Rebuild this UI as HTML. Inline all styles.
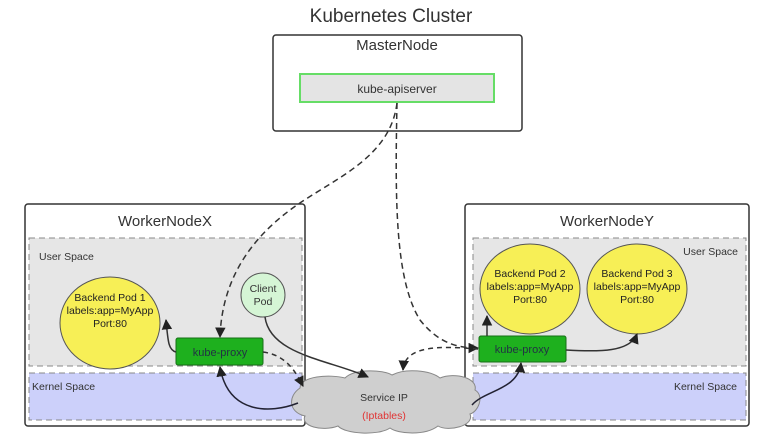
<!DOCTYPE html>
<html><head><meta charset="utf-8"><style>
html,body{margin:0;padding:0;background:#fff;}
svg{display:block;font-family:"Liberation Sans",sans-serif;}
</style></head><body>
<svg width="762" height="440" viewBox="0 0 762 440" xmlns="http://www.w3.org/2000/svg">
<defs>
<marker id="a" viewBox="0 0 10 10" refX="9" refY="5" markerWidth="7" markerHeight="7" orient="auto"><path d="M0,0 L10,5 L0,10 z" fill="#222"/></marker>
</defs>
<rect width="762" height="440" fill="#fff"/>
<text x="391" y="22" font-size="19" text-anchor="middle" fill="#333">Kubernetes Cluster</text>
<!-- master -->
<rect x="273" y="35" width="249" height="96" rx="3" fill="#fff" stroke="#333" stroke-width="1.5"/>
<text x="397" y="50" font-size="15" text-anchor="middle" fill="#333">MasterNode</text>
<rect x="300" y="74" width="194" height="28" fill="#e4e4e4" stroke="#66dd66" stroke-width="2"/>
<text x="397" y="93" font-size="12" text-anchor="middle" fill="#333">kube-apiserver</text>
<!-- worker X -->
<rect x="25" y="204" width="280" height="222" rx="3" fill="#fff" stroke="#333" stroke-width="1.5"/>
<text x="165" y="226" font-size="15" text-anchor="middle" fill="#333">WorkerNodeX</text>
<rect x="29" y="238" width="273" height="128" fill="#e6e6e6" stroke="#888" stroke-dasharray="6,4"/>
<rect x="29" y="373" width="273" height="47" fill="#ccd0fa" stroke="#888" stroke-dasharray="6,4"/>
<text x="39" y="260" font-size="10.5" fill="#333">User Space</text>
<text x="32" y="390" font-size="10.5" fill="#333">Kernel Space</text>
<ellipse cx="110" cy="323" rx="50" ry="46" fill="#f7ef56" stroke="#555"/>
<text font-size="10.5" text-anchor="middle" fill="#222"><tspan x="110" y="301">Backend Pod 1</tspan><tspan x="110" y="314">labels:app=MyApp</tspan><tspan x="110" y="327">Port:80</tspan></text>
<circle cx="263" cy="295" r="22" fill="#d5f5d5" stroke="#555"/>
<text font-size="10.5" text-anchor="middle" fill="#333"><tspan x="263" y="292">Client</tspan><tspan x="263" y="305">Pod</tspan></text>
<rect x="176" y="338" width="87" height="27" rx="2" fill="#1eb01e" stroke="#157015"/>
<text x="220" y="356" font-size="11" text-anchor="middle" fill="#234">kube-proxy</text>
<!-- worker Y -->
<rect x="465" y="204" width="284" height="222" rx="3" fill="#fff" stroke="#333" stroke-width="1.5"/>
<text x="607" y="226" font-size="15" text-anchor="middle" fill="#333">WorkerNodeY</text>
<rect x="473" y="238" width="273" height="128" fill="#e6e6e6" stroke="#888" stroke-dasharray="6,4"/>
<rect x="473" y="373" width="273" height="47" fill="#ccd0fa" stroke="#888" stroke-dasharray="6,4"/>
<text x="738" y="255" font-size="10.5" text-anchor="end" fill="#333">User Space</text>
<text x="737" y="390" font-size="10.5" text-anchor="end" fill="#333">Kernel Space</text>
<ellipse cx="530" cy="289" rx="50" ry="45" fill="#f7ef56" stroke="#555"/>
<text font-size="10.5" text-anchor="middle" fill="#222"><tspan x="530" y="277">Backend Pod 2</tspan><tspan x="530" y="290">labels:app=MyApp</tspan><tspan x="530" y="303">Port:80</tspan></text>
<ellipse cx="637" cy="289" rx="50" ry="45" fill="#f7ef56" stroke="#555"/>
<text font-size="10.5" text-anchor="middle" fill="#222"><tspan x="637" y="277">Backend Pod 3</tspan><tspan x="637" y="290">labels:app=MyApp</tspan><tspan x="637" y="303">Port:80</tspan></text>
<rect x="479" y="336" width="87" height="26" rx="2" fill="#1eb01e" stroke="#157015"/>
<text x="522" y="353" font-size="11" text-anchor="middle" fill="#234">kube-proxy</text>
<!-- cloud -->
<path d="M300,388 C300,376 330,374 345,378 C355,368 385,370 392,375 C405,368 430,370 440,378 C455,372 478,378 475,390 C485,396 478,412 470,414 C475,426 448,432 438,426 C425,436 398,434 390,428 C378,436 345,434 338,426 C322,432 300,426 305,416 C288,412 288,396 300,388 Z" fill="#cfcfcf" stroke="#888"/>
<text x="384" y="401" font-size="10.5" text-anchor="middle" fill="#333">Service IP</text>
<text x="384" y="419" font-size="10.5" text-anchor="middle" fill="#e03333">(Iptables)</text>
<!-- connectors -->
<g fill="none" stroke="#333" stroke-width="1.5">
<path d="M397,103 C390,160 330,180 290,210 C250,240 222,280 220,337" stroke-dasharray="6,4" marker-end="url(#a)"/>
<path d="M397,103 C395,200 395,280 420,320 C440,345 460,348 478,348" stroke-dasharray="6,4" marker-end="url(#a)"/>
<path d="M263,352 C285,355 295,370 303,386" stroke-dasharray="5,4" marker-end="url(#a)"/>
<path d="M478,349 C440,346 405,345 403,370" stroke-dasharray="5,4" marker-end="url(#a)"/>
<path d="M265,317 C270,355 330,360 368,377" marker-end="url(#a)"/>
<path d="M176,352 C168,350 168,340 166,320" marker-end="url(#a)"/>
<path d="M298,403 C270,414 228,414 220,367" stroke="#223" marker-end="url(#a)"/>
<path d="M472,405 C485,390 518,390 521,363" stroke="#223" marker-end="url(#a)"/>
<path d="M487,336 L487,316" marker-end="url(#a)"/>
<path d="M566,350 C600,352 630,352 637,334" marker-end="url(#a)"/>
</g>
</svg>
</body></html>
